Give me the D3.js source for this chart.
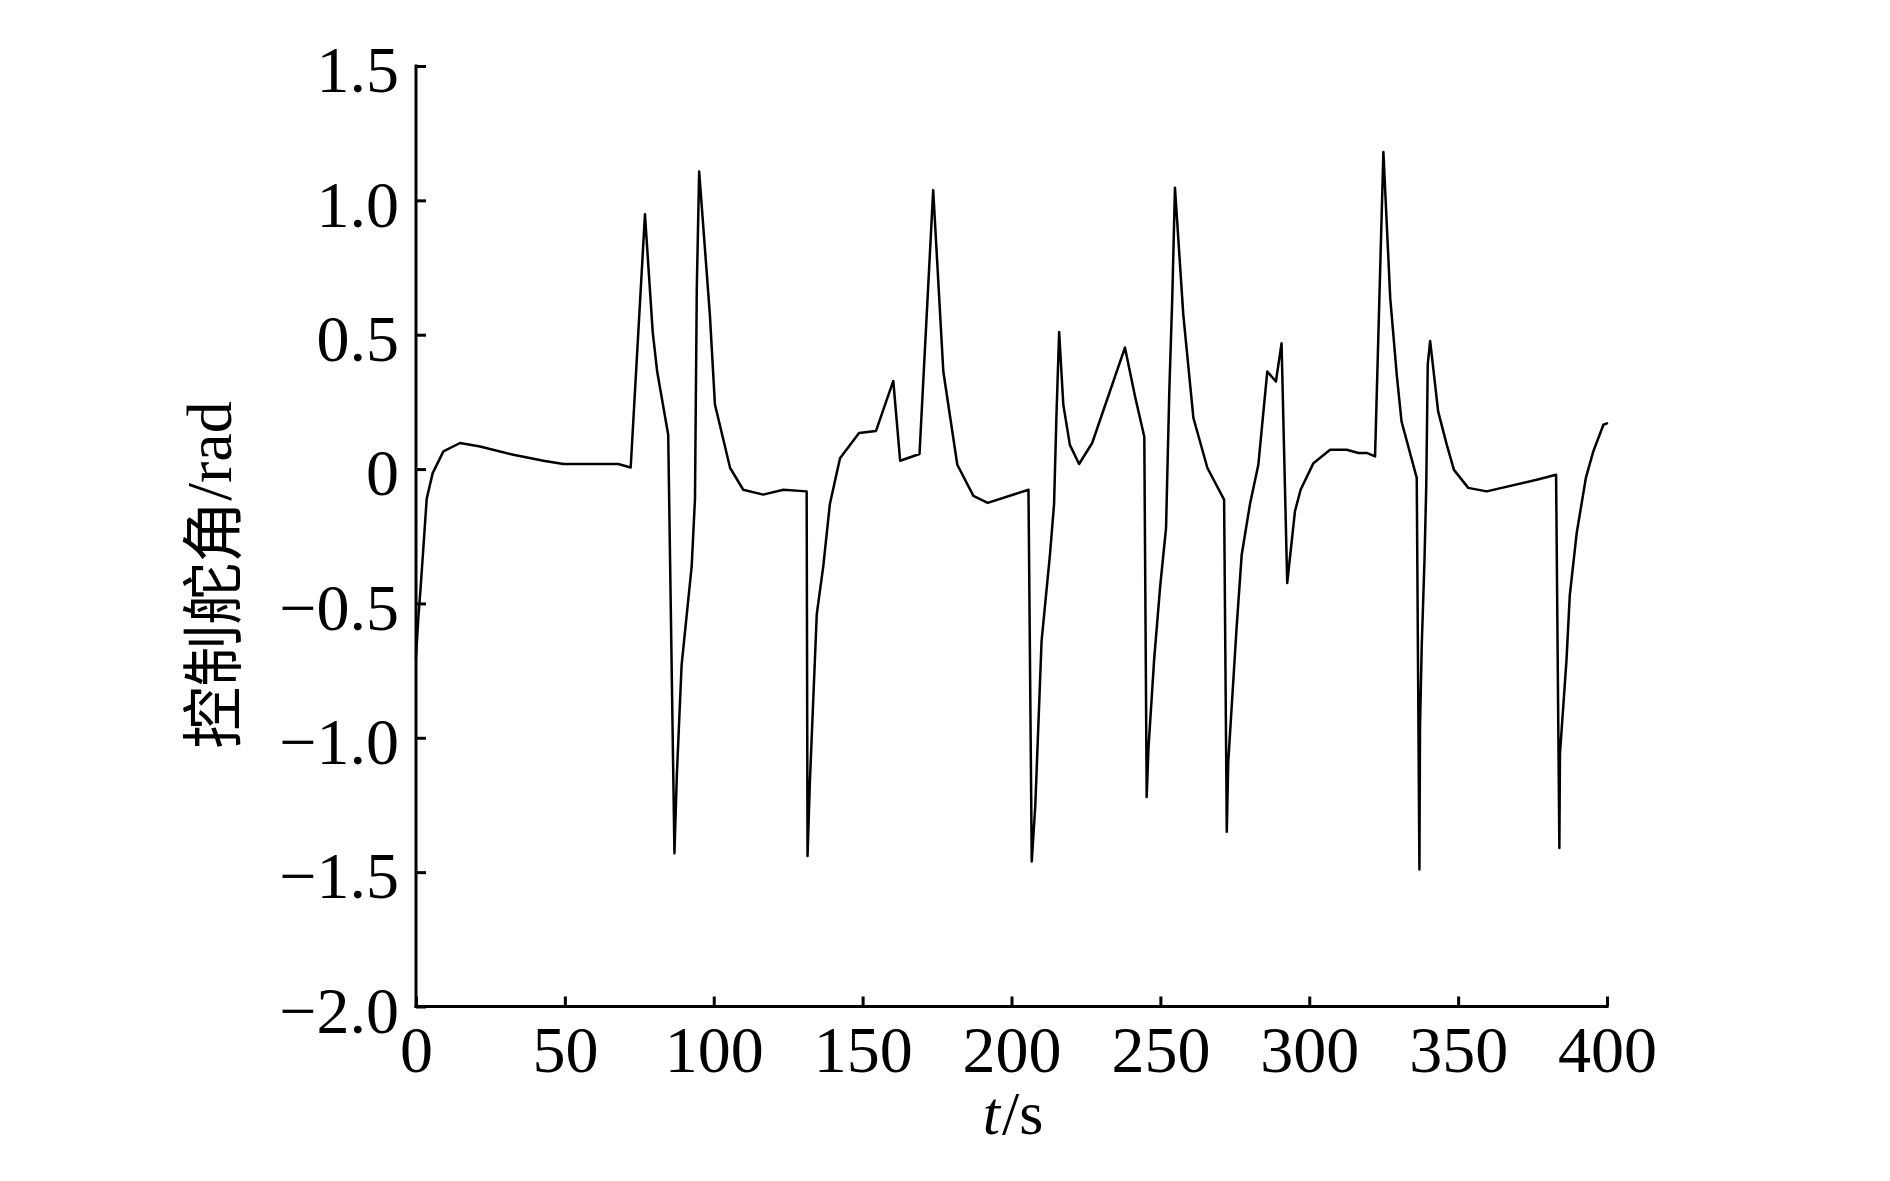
<!DOCTYPE html>
<html>
<head>
<meta charset="utf-8">
<script src="https://cdn.jsdelivr.net/npm/d3@7"></script>
<style>
  html, body { margin: 0; padding: 0; background: #fff; }
  svg { display: block; }
</style>
</head>
<body>
<svg id="chart" width="1890" height="1181"></svg>
<script>
// ---- data ----
const timeS = [
  0, 0.8, 1.5, 3.6, 5.6, 9.2, 14.8, 21.5, 32.7, 42.8, 49.5, 67.9, 72.1,
  76.9, 79.5, 81.0, 84.7, 86.8, 87.6, 89.2, 92.6, 93.7, 94.3, 95.1, 98.7,
  100.4, 105.5, 109.9, 116.6, 123.4, 131.2, 131.5, 132.3, 134.6, 136.8, 139.0,
  142.4, 148.8, 154.5, 160.3, 162.6, 169.1, 173.7, 177.1, 181.8, 187.2, 192.0,
  205.7, 206.8, 208.0, 210.1, 212.9, 214.3, 215.1, 216.0, 217.4, 219.6, 222.7,
  227.1, 229.2, 238.1, 241.5, 244.6, 245.4, 246.0, 247.9, 249.9, 251.9, 253.0,
  254.0, 254.9, 257.7, 261.1, 265.8, 271.4, 272.3, 272.8, 275.6, 277.3, 280.1,
  282.9, 285.9, 288.8, 290.7, 292.6, 295.2, 297.1, 301.4, 307.0, 312.6, 316.5,
  319.3, 322.1, 324.9, 327.2, 329.4, 331.0, 336.1, 337.0, 337.2, 337.8, 338.7,
  339.3, 339.8, 340.6, 343.3, 346.2, 348.6, 353.4, 359.6, 376.4, 382.9, 384.0,
  384.2, 386.4, 387.5, 389.8, 392.9, 395.4, 398.8, 400
];
const controlAngle = [
  -0.70, -0.55, -0.45, -0.11, -0.015, 0.066, 0.097, 0.084, 0.053, 0.031, 0.019, 0.019, 0.006,
  0.948, 0.51, 0.363, 0.128, -1.43, -1.14, -0.73, -0.36, -0.11, 0.67, 1.107, 0.574,
  0.24, 0.004, -0.077, -0.095, -0.077, -0.083, -1.44, -1.16, -0.54, -0.36, -0.13,
  0.04, 0.134, 0.142, 0.328, 0.031, 0.056, 1.038, 0.363, 0.016, -0.10, -0.126,
  -0.077, -1.46, -1.25, -0.64, -0.32, -0.13, 0.20, 0.51, 0.24, 0.09, 0.019,
  0.097, 0.165, 0.452, 0.27, 0.12, -1.22, -1.04, -0.71, -0.44, -0.22, 0.29,
  0.64, 1.047, 0.574, 0.19, 0.004, -0.114, -1.35, -1.09, -0.59, -0.32, -0.13,
  0.016, 0.363, 0.326, 0.468, -0.424, -0.157, -0.077, 0.022, 0.072, 0.072, 0.06,
  0.06, 0.047, 1.18, 0.636, 0.35, 0.177, -0.033, -1.49, -0.96, -0.65, -0.34,
  -0.06, 0.39, 0.477, 0.214, 0.09, -0.003, -0.07, -0.083, -0.04, -0.021, -1.41,
  -1.06, -0.71, -0.47, -0.24, -0.033, 0.066, 0.165, 0.17
];
const xTicks = [0, 50, 100, 150, 200, 250, 300, 350, 400];
const xTickLabels = ["0", "50", "100", "150", "200", "250", "300", "350", "400"];
const yTicks = [1.5, 1.0, 0.5, 0, -0.5, -1.0, -1.5, -2.0];
const yTickLabels = ["1.5", "1.0", "0.5", "0", "\u22120.5", "\u22121.0", "\u22121.5", "\u22122.0"];
const yLabelCJK = "控制舵角";
const yLabelUnit = "/rad";
const xLabelVar = "t";
const xLabelUnit = "/s";

// ---- layout ----
const plotLeft = 416, plotRight = 1607, plotTop = 66, plotBottom = 1006.5;
const serif = "'Liberation Serif', 'Times New Roman', serif";
const tickFont = 66;

const svg = d3.select("#chart");
const x = d3.scaleLinear().domain([0, 400]).range([plotLeft, plotRight]);
const y = d3.scaleLinear().domain([-2, 1.5]).range([plotBottom, plotTop]);

// line
const pts = timeS.map((t, i) => [t, controlAngle[i]]);
svg.append("path")
  .datum(pts)
  .attr("fill", "none")
  .attr("stroke", "#000")
  .attr("stroke-width", 2.5)
  .attr("stroke-linejoin", "round")
  .attr("stroke-linecap", "round")
  .attr("d", d3.line().x(d => x(d[0])).y(d => y(d[1])));

// x axis
const xAxis = svg.append("g")
  .attr("transform", `translate(0,${plotBottom})`)
  .call(d3.axisBottom(x).tickValues(xTicks)
    .tickFormat((d, i) => xTickLabels[i])
    .tickSizeInner(-10).tickSizeOuter(0).tickPadding(0));
xAxis.select(".domain").attr("stroke", "#000").attr("stroke-width", 3)
  .attr("d", `M${plotLeft - 1.5},0H${plotRight + 1.5}`);
xAxis.selectAll(".tick line").attr("stroke", "#000").attr("stroke-width", 3);
xAxis.selectAll(".tick text")
  .attr("y", 65).attr("dy", 0)
  .attr("font-family", serif).attr("font-size", tickFont).attr("fill", "#000");

// y axis
const yAxis = svg.append("g")
  .attr("transform", `translate(${plotLeft},0)`)
  .call(d3.axisLeft(y).tickValues(yTicks)
    .tickFormat((d, i) => yTickLabels[i])
    .tickSizeInner(-10).tickSizeOuter(0).tickPadding(0));
yAxis.select(".domain").attr("stroke", "#000").attr("stroke-width", 3)
  .attr("d", `M0,${plotTop - 1.5}V${plotBottom + 1.5}`);
yAxis.selectAll(".tick line").attr("stroke", "#000").attr("stroke-width", 3);
yAxis.selectAll(".tick text")
  .attr("x", -17).attr("dy", "0.39em")
  .attr("font-family", serif).attr("font-size", tickFont).attr("fill", "#000");

// y label
const yl = svg.append("text")
  .attr("transform", "translate(209,575) rotate(-90)")
  .attr("text-anchor", "middle")
  .attr("dominant-baseline", "central")
  .attr("fill", "#000");
yl.append("tspan").attr("font-family", "'Noto Sans CJK SC', sans-serif")
  .attr("font-size", 62).text(yLabelCJK);
yl.append("tspan").attr("font-family", serif)
  .attr("font-size", 64).text(yLabelUnit);

// x label
const xl = svg.append("text")
  .attr("x", 1013).attr("y", 1134)
  .attr("text-anchor", "middle")
  .attr("font-family", serif).attr("font-size", 62).attr("fill", "#000");
xl.append("tspan").attr("font-style", "italic").text(xLabelVar);
xl.append("tspan").attr("dx", 2).text(xLabelUnit);
</script>
</body>
</html>
